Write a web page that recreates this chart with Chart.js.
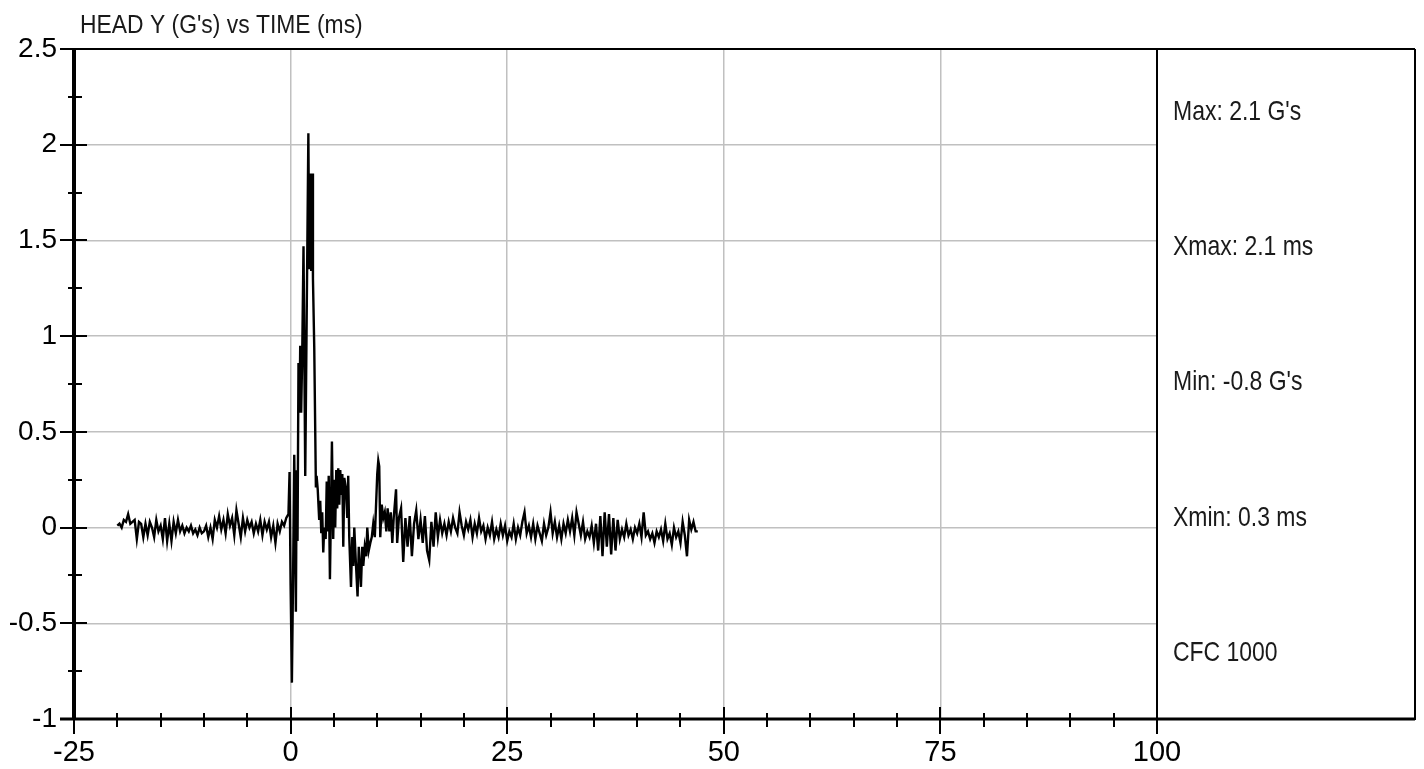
<!DOCTYPE html>
<html>
<head>
<meta charset="utf-8">
<script src="https://cdn.jsdelivr.net/npm/chart.js@4.4.1/dist/chart.umd.min.js"></script>
<style>
  html, body { margin: 0; padding: 0; background: #fff; }
  #area { width: 1424px; height: 769px; position: relative; }
</style>
</head>
<body>
<div id="area"><canvas id="grafico"></canvas></div>
<script>
// Textos do grafico
const tituloGrafico = "HEAD Y (G's) vs TIME (ms)";
const textosPainel = ["Max: 2.1 G's", "Xmax: 2.1 ms", "Min: -0.8 G's", "Xmin: 0.3 ms", "CFC 1000"];

// Eixos (ms e G's)
const eixoX = { min: -25, max: 100, passo: 25, menor: 5 };
const eixoY = { min: -1, max: 2.5, passo: 0.5, menor: 0.25 };

// Antes do impacto: amostras a cada 0.25 ms a partir de -20 ms
const inicioAntes = -20;
const passoAntes = 0.25;
const valoresAntes = [
  0.01, 0.02, 0.0, 0.04, 0.03, 0.07, 0.02, 0.03, 0.04, -0.06,
  0.03, 0.02, -0.05, 0.02, -0.04, 0.03, 0.0, -0.05, 0.04, -0.02,
  0.01, -0.06, 0.05, -0.07, 0.02, -0.07, 0.03, -0.03, 0.04, -0.02,
  0.01, -0.03, 0.0, -0.02, 0.01, -0.03, -0.01, -0.04, 0.0, -0.03,
  -0.02, 0.01, -0.05, 0.0, -0.06, 0.04, 0.0, 0.06, -0.01, 0.04,
  -0.03, 0.07, 0.01, 0.05, -0.04, 0.09, 0.02, -0.05, 0.05, -0.02,
  0.04, 0.0, 0.03, -0.03, 0.02, -0.02, 0.04, -0.04, 0.03, -0.01,
  0.03, -0.05, 0.01, -0.08, 0.02, -0.02, 0.03, 0.01, 0.05, 0.07
];

// Impacto: tempos
const temposImpacto = [
  -0.12, 0.0, 0.15, 0.3, 0.42, 0.52, 0.61, 0.7, 0.8, 0.91,
  1.03, 1.11, 1.22, 1.34, 1.49, 1.69, 2.05, 2.15, 2.27, 2.38,
  2.5, 2.58, 2.73, 2.92, 3.0, 3.13, 3.3, 3.42, 3.54, 3.65,
  3.77, 3.88, 4.05, 4.17, 4.29, 4.4, 4.54, 4.66, 4.77, 4.92,
  5.04, 5.15, 5.27, 5.38, 5.5, 5.62, 5.73, 5.85, 5.97, 6.08,
  6.2, 6.39, 6.54, 6.65, 6.77, 6.97, 7.12, 7.24, 7.35, 7.53,
  7.73, 7.87, 8.12, 8.27, 8.39, 8.56, 8.73, 8.85, 9.02, 9.2,
  9.37, 9.54, 9.72, 9.89, 10.0, 10.12, 10.23, 10.35, 10.52, 10.7,
  10.87, 11.05, 11.2, 11.4, 11.56, 11.74, 11.9, 12.17, 12.3, 12.5
];
const valoresImpacto = [
  0.29, -0.3, -0.81, -0.2, 0.38, 0.0, -0.44, 0.3, -0.07, 0.86,
  0.6, 0.95, 0.6, 0.9, 1.47, 0.27, 2.06, 1.35, 1.85, 1.34,
  1.85, 1.3, 0.94, 0.21, 0.27, 0.2, 0.04, 0.14, -0.03, 0.08,
  -0.13, 0.0, -0.06, 0.24, -0.02, 0.27, -0.27, 0.1, 0.45, -0.06,
  0.25, 0.0, 0.3, 0.1, 0.31, 0.12, 0.3, 0.17, 0.28, -0.1,
  0.26, 0.2, 0.05, 0.27, -0.05, -0.31, -0.05, -0.2, 0.0, -0.18,
  -0.36, -0.1, -0.31, -0.1, -0.2, -0.1, -0.15, 0.0, -0.12, -0.08,
  -0.05, 0.02, -0.05, 0.15, 0.28, 0.35, 0.32, -0.05, 0.12, 0.05,
  0.08, -0.02, 0.1, -0.02, 0.08, -0.08, 0.05, 0.2, -0.08, 0.05
];

// Depois do impacto: amostras a cada 0.25 ms a partir de 12.75 ms
const inicioDepois = 12.75;
const passoDepois = 0.25;
const valoresDepois = [
  0.1, -0.18, 0.05, -0.1, 0.06, -0.15, 0.02, 0.09, -0.06, 0.04,
  -0.08, 0.06, -0.12, -0.17, 0.03, -0.1, 0.08, -0.05, 0.04, -0.03,
  0.02, -0.04, 0.03, -0.02, 0.05, 0.0, -0.03, 0.08, 0.01, -0.04,
  0.03, -0.01, 0.04, -0.05, 0.02, -0.03, 0.05, -0.02, 0.01, -0.06,
  0.0, -0.04, 0.03, -0.06, -0.01, -0.05, 0.02, -0.04, 0.01, -0.07,
  -0.02, -0.05, 0.02, -0.06, 0.0, -0.04, 0.03, 0.08, -0.03, 0.01,
  -0.05, 0.02, -0.06, 0.01, -0.03, -0.07, 0.02, -0.04, 0.0, 0.08,
  -0.03, 0.03, -0.05, 0.01, -0.06, 0.02, -0.03, 0.04, -0.02, 0.05,
  -0.04, 0.08, 0.02, -0.04, 0.03, -0.06, -0.02, -0.05, 0.01, -0.08,
  0.02, -0.12, 0.06, -0.15, 0.08, -0.1, 0.07, -0.14, 0.05, -0.12,
  0.04, -0.06, -0.01, -0.05, 0.02, -0.04, -0.01, -0.06, 0.0, -0.03,
  0.02, -0.05, 0.08, -0.04, -0.02, -0.06, -0.03, -0.08, -0.02, -0.05,
  -0.01, -0.07, 0.02, -0.06, -0.03, -0.09, 0.0, -0.05, -0.02, -0.08,
  0.03, -0.04, -0.15, 0.04, -0.01, 0.03, -0.02, -0.02
];

const fonteNum = '"Liberation Sans", Arial, sans-serif';

// Monta os pontos {x, y}
const pontos = [];
valoresAntes.forEach((v, i) => pontos.push({ x: inicioAntes + i * passoAntes, y: v }));
temposImpacto.forEach((t, i) => pontos.push({ x: t, y: valoresImpacto[i] }));
valoresDepois.forEach((v, i) => pontos.push({ x: inicioDepois + i * passoDepois, y: v }));

// texto estreito (sem fonte narrow instalada, comprime na horizontal)
function textoEstreito(ctx, texto, x, y, escala) {
  ctx.save();
  ctx.translate(x, y);
  ctx.scale(escala, 1);
  ctx.fillText(texto, 0, 0);
  ctx.restore();
}

// Moldura, marcas de escala, painel lateral e titulo
const moldura = {
  id: 'moldura',
  afterDraw(chart) {
    const { ctx, chartArea: a, scales } = chart;
    const x = scales.x, y = scales.y;
    const direitaPainel = 1415;
    ctx.save();
    ctx.strokeStyle = '#000';
    ctx.lineCap = 'butt';

    // marcas do eixo x
    ctx.lineWidth = 2;
    for (let v = eixoX.min; v <= eixoX.max; v += eixoX.menor) {
      const px = Math.round(x.getPixelForValue(v));
      ctx.beginPath();
      if (v % eixoX.passo === 0) {
        ctx.moveTo(px, a.bottom - 12);
        ctx.lineTo(px, a.bottom + 15);
      } else {
        ctx.moveTo(px, a.bottom - 6);
        ctx.lineTo(px, a.bottom + 8);
      }
      ctx.stroke();
    }

    // marcas do eixo y
    for (let v = eixoY.min; v <= eixoY.max + 0.001; v += eixoY.menor) {
      const py = Math.round(y.getPixelForValue(v));
      const maior = Math.abs(v / eixoY.passo - Math.round(v / eixoY.passo)) < 0.001;
      ctx.beginPath();
      if (maior) {
        ctx.moveTo(a.left - 14, py);
        ctx.lineTo(a.left + 13, py);
      } else {
        ctx.moveTo(a.left - 6, py);
        ctx.lineTo(a.left + 8, py);
      }
      ctx.stroke();
    }

    // bordas
    ctx.lineWidth = 4;
    ctx.beginPath();
    ctx.moveTo(a.left, a.top);
    ctx.lineTo(a.left, a.bottom + 1);
    ctx.stroke();

    ctx.lineWidth = 3;
    ctx.beginPath();
    ctx.moveTo(a.left - 14, a.bottom);
    ctx.lineTo(direitaPainel, a.bottom);
    ctx.stroke();

    ctx.lineWidth = 2;
    ctx.beginPath();
    ctx.moveTo(a.left, a.top);
    ctx.lineTo(direitaPainel, a.top);
    ctx.moveTo(a.right, a.top);
    ctx.lineTo(a.right, a.bottom);
    ctx.moveTo(direitaPainel, a.top);
    ctx.lineTo(direitaPainel, a.bottom + 1);
    ctx.stroke();

    // textos do painel
    ctx.fillStyle = '#1a1a1a';
    ctx.font = '28px ' + fonteNum;
    ctx.textBaseline = 'middle';
    ctx.textAlign = 'left';
    textosPainel.forEach((t, i) => {
      textoEstreito(ctx, t, a.right + 16, a.top + 63 + i * 135.3, 0.82);
    });

    // titulo
    ctx.font = '26px ' + fonteNum;
    ctx.textBaseline = 'alphabetic';
    textoEstreito(ctx, tituloGrafico, 80, 33, 0.88);
    ctx.restore();
  }
};

const escondeBorda = (min, max) => (c) =>
  (c.tick && (c.tick.value === min || c.tick.value === max)) ? 'rgba(0,0,0,0)' : '#c0c0c0';

const ctx = document.getElementById('grafico').getContext('2d');
new Chart(ctx, {
  type: 'line',
  data: {
    datasets: [{
      data: pontos,
      borderColor: '#000',
      borderWidth: 2.4,
      pointRadius: 0,
      tension: 0,
      fill: false
    }]
  },
  options: {
    responsive: true,
    maintainAspectRatio: false,
    animation: false,
    layout: { padding: { top: 49, right: 267, left: 0, bottom: 0 } },
    plugins: {
      legend: { display: false },
      tooltip: { enabled: false },
      title: { display: false }
    },
    scales: {
      x: {
        type: 'linear',
        min: eixoX.min,
        max: eixoX.max,
        afterFit: (s) => { s.height = 50; },
        border: { display: false },
        grid: {
          color: escondeBorda(eixoX.min, eixoX.max),
          lineWidth: 1.5,
          drawTicks: true,
          tickLength: 14,
          tickColor: 'rgba(0,0,0,0)'
        },
        ticks: {
          stepSize: eixoX.passo,
          color: '#000',
          padding: 3,
          maxRotation: 0,
          autoSkip: false,
          font: { family: fonteNum, size: 29 }
        }
      },
      y: {
        min: eixoY.min,
        max: eixoY.max,
        afterFit: (s) => { s.width = 74; },
        border: { display: false },
        grid: {
          color: escondeBorda(eixoY.min, eixoY.max),
          lineWidth: 1.5,
          drawTicks: true,
          tickLength: 14,
          tickColor: 'rgba(0,0,0,0)'
        },
        ticks: {
          stepSize: eixoY.passo,
          color: '#000',
          padding: 3,
          font: { family: fonteNum, size: 28 },
          callback: (v) => String(Math.round(v * 10) / 10)
        }
      }
    }
  },
  plugins: [moldura]
});
</script>
</body>
</html>
